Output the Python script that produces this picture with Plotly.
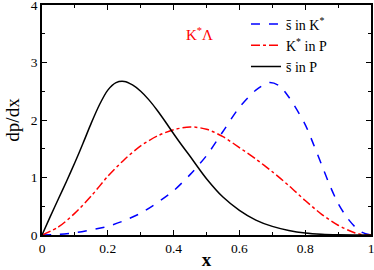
import plotly.graph_objects as go

# values
x_black = [0, 0.025, 0.05, 0.075, 0.1, 0.125, 0.15, 0.175, 0.2, 0.225, 0.25, 0.275,
           0.3, 0.325, 0.35, 0.375, 0.4, 0.425, 0.45, 0.475, 0.5, 0.55, 0.6, 0.65,
           0.7, 0.75, 0.8, 0.85, 0.9, 1.0]
y_black = [0, 0.32, 0.63, 0.94, 1.26, 1.6, 1.95, 2.27, 2.52, 2.65, 2.67, 2.61,
           2.5, 2.35, 2.17, 1.97, 1.76, 1.56, 1.37, 1.17, 0.98, 0.66, 0.43, 0.26,
           0.15, 0.08, 0.035, 0.012, 0.003, 0]

x_red = [0, 0.05, 0.1, 0.15, 0.2, 0.25, 0.3, 0.35, 0.4, 0.45, 0.5, 0.55, 0.6,
         0.65, 0.7, 0.75, 0.8, 0.85, 0.9, 0.95, 0.98, 1.0]
y_red = [0, 0.14, 0.38, 0.68, 1.02, 1.31, 1.55, 1.72, 1.83, 1.88, 1.84, 1.71, 1.52,
         1.32, 1.1, 0.86, 0.6, 0.36, 0.17, 0.04, 0, 0]

x_blue = [0, 0.05, 0.1, 0.15, 0.2, 0.25, 0.3, 0.35, 0.4, 0.45, 0.5, 0.55, 0.6,
          0.65, 0.69, 0.72, 0.75, 0.8, 0.825, 0.85, 0.875, 0.9, 0.925, 0.95, 0.975, 1.0]
y_blue = [0, 0.01, 0.04, 0.09, 0.15, 0.25, 0.38, 0.56, 0.77, 1.05, 1.38, 1.8, 2.22,
          2.52, 2.65, 2.6, 2.4, 1.92, 1.58, 1.22, 0.86, 0.55, 0.32, 0.15, 0.04, 0]

font_family = "Liberation Serif"

fig = go.Figure()
fig.add_trace(go.Scatter(x=x_blue, y=y_blue, mode='lines', name='s\u0304 in K<sup>*</sup>',
                         line=dict(color='blue', width=1.5, dash='dash', shape='spline', smoothing=0.8)))
fig.add_trace(go.Scatter(x=x_red, y=y_red, mode='lines', name='K<sup>*</sup> in P',
                         line=dict(color='red', width=1.5, dash='dashdot', shape='spline', smoothing=0.8)))
fig.add_trace(go.Scatter(x=x_black, y=y_black, mode='lines', name='s\u0304 in P',
                         line=dict(color='black', width=1.5, shape='spline', smoothing=0.8)))

fig.add_annotation(x=0.48, y=3.5, text='K<sup>*</sup>\u039b', showarrow=False,
                   font=dict(color='red', size=15, family=font_family))

axis_common = dict(showline=True, linecolor='black', linewidth=1.5, mirror='allticks',
                   ticks='inside', ticklen=5, tickwidth=1, tickcolor='black',
                   showgrid=False, zeroline=False, automargin=False,
                   ticklabeloverflow='allow',
                   tickfont=dict(size=13.5, family=font_family, color='black'))

fig.update_layout(
    width=374, height=270,
    margin=dict(l=42, r=3, t=5, b=35),
    paper_bgcolor='white', plot_bgcolor='white',
    font=dict(family=font_family, color='black'),
    xaxis=dict(range=[0, 1], dtick=0.2, tickformat='.1~f',
               minor=dict(ticks='inside', ticklen=3, dtick=0.1, tickcolor='black'),
               title=dict(text='<b>x</b>', font=dict(size=19, family=font_family), standoff=2),
               **axis_common),
    yaxis=dict(range=[0, 4], dtick=1,
               minor=dict(ticks='inside', ticklen=3, dtick=0.5, tickcolor='black'),
               title=dict(text='dp/dx', font=dict(size=19, family=font_family), standoff=6),
               **axis_common),
    legend=dict(x=0.62, y=0.985, xanchor='left', yanchor='top', bgcolor='rgba(0,0,0,0)',
                font=dict(size=14, family=font_family), tracegroupgap=0),
)

# page body has a default 8px margin; drop it so the figure sits at the window corner
fig.write_html("out.html", config={'displayModeBar': False},
               post_script="document.body.style.margin='0px';")
